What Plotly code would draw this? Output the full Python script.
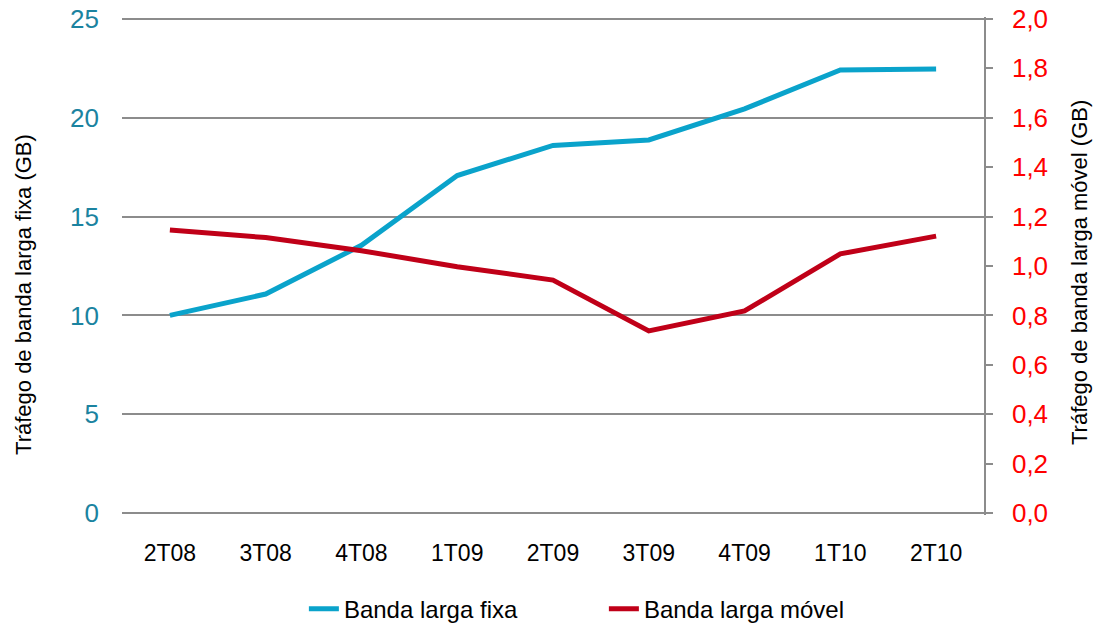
import plotly.graph_objects as go

categories = ["2T08", "3T08", "4T08", "1T09", "2T09", "3T09", "4T09", "1T10", "2T10"]
fixa = [10.0, 11.08, 13.55, 17.08, 18.6, 18.88, 20.45, 22.42, 22.47]
movel = [1.146, 1.115, 1.062, 0.997, 0.943, 0.737, 0.818, 1.049, 1.121]

left_ticks = [0, 5, 10, 15, 20, 25]
right_ticks = [0.0, 0.2, 0.4, 0.6, 0.8, 1.0, 1.2, 1.4, 1.6, 1.8, 2.0]

left_title = "Tráfego de banda larga fixa (GB)"
right_title = "Tráfego de banda larga móvel (GB)"

FONT = "Liberation Sans, Arial, sans-serif"
GRID = "#8C8C8C"

fig = go.Figure()
fig.add_trace(go.Scatter(x=categories, y=fixa, name="Banda larga fixa", mode="lines",
                         line=dict(color="#0AA3CB", width=5)))
fig.add_trace(go.Scatter(x=categories, y=movel, name="Banda larga móvel", mode="lines",
                         line=dict(color="#C00018", width=5), yaxis="y2"))

fig.update_layout(
    width=1095, height=627,
    margin=dict(l=122, r=111, t=17, b=112, autoexpand=False),
    paper_bgcolor="white", plot_bgcolor="white",
    separators=",.",
    font=dict(family=FONT, size=22, color="black"),
    showlegend=True,
    legend=dict(orientation="h", x=0.211, xanchor="left", y=-0.189, yanchor="middle",
                font=dict(size=24, color="black"), entrywidth=255, entrywidthmode="pixels"),
    xaxis=dict(type="category", range=[-0.5, 8.5], showgrid=False, zeroline=False, showline=False,
               ticks="", tickfont=dict(size=23, color="black"), ticklabelstandoff=22),
    yaxis=dict(range=[-0.1, 25.1], tickvals=left_ticks, showgrid=True, gridcolor=GRID,
               gridwidth=1.5, zeroline=False, showline=False, ticks="",
               tickfont=dict(size=26, color="#1B83A0"), ticklabelstandoff=22),
    yaxis2=dict(range=[-0.008, 2.008], tickvals=right_ticks, tickformat=".1f", overlaying="y",
                side="right", showgrid=False, zeroline=False, showline=True, linecolor=GRID,
                linewidth=1.5, ticks="outside", ticklen=7, tickwidth=1.5, tickcolor=GRID,
                tickfont=dict(size=26, color="#FF0000"), ticklabelstandoff=14),
    annotations=[
        dict(text=left_title, textangle=-90, xref="paper", yref="paper", x=-0.1137, y=0.4438,
             xanchor="center", yanchor="middle", showarrow=False,
             font=dict(size=22, color="black")),
        dict(text=right_title, textangle=-90, xref="paper", yref="paper", x=1.1114, y=0.486,
             xanchor="center", yanchor="middle", showarrow=False,
             font=dict(size=22, color="black")),
    ],
)

fig.write_html("out.html")
